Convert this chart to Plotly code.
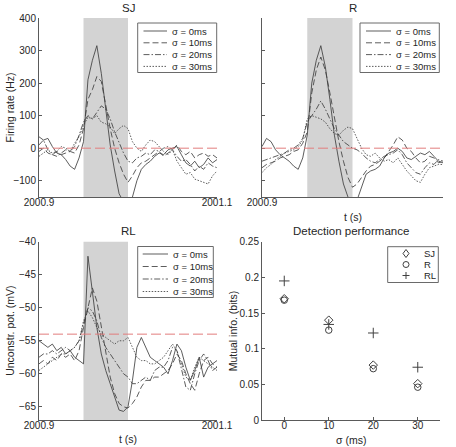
import plotly.graph_objects as go

# ---------------- data ----------------
TIME = [2000.900, 2000.905, 2000.910, 2000.915, 2000.920, 2000.925, 2000.930, 2000.935, 2000.940, 2000.945,
        2000.950, 2000.955, 2000.960, 2000.965, 2000.970, 2000.975, 2000.980, 2000.985, 2000.990, 2000.995,
        2001.000, 2001.005, 2001.010, 2001.015, 2001.020, 2001.025, 2001.030, 2001.035, 2001.040, 2001.045,
        2001.050, 2001.055, 2001.060, 2001.065, 2001.070, 2001.075, 2001.080, 2001.085, 2001.090, 2001.095,
        2001.100]
SHADE = [2000.95, 2001.0]
SIGMA_LABELS = ["σ = 0ms", "σ = 10ms", "σ = 20ms", "σ = 30ms"]
TIME_TICKS = [2000.9, 2001.1]
TIME_TICK_TEXT = ["2000.9", "2001.1"]

SJ_0 = [35, 25, 30, 5, -15, -20, -35, -55, -65, -30,
        20, 210, 270, 315, 230, 120, 10, -70, -140, -165,
        -175, -150, -100, -65, -50, -40, -25, -15, -20, -5,
        0, 5, -20, -45, -55, -40, -60, -50, -30, -45, -35]
SJ_10 = [-10, 0, -15, -20, -10, -20, -15, -10, -15, 10,
         60, 150, 180, 220, 205, 130, 60, 0, -45, -80,
         -105, -85, -60, -45, -40, -30, -20, -10, -25, -15,
         -5, 10, -10, -20, -10, -30, -20, -15, -25, -20, -30]
SJ_20 = [10, 25, -5, -20, -25, -15, -5, -10, 5, 40,
         80, 100, 90, 110, 130, 120, 90, 50, 15, -15,
         -40, -45, -30, -25, -15, -20, -5, -10, 0, 5,
         -5, -25, -40, -35, -50, -70, -55, -65, -45, -55, -60]
SJ_30 = [-25, -15, -5, -15, -10, 5, 0, -10, 15, 35,
         70, 95, 90, 100, 80, 75, 65, 45, 60, 70,
         60, 20, 0, -10, 10, 25, 20, 5, -10, -20,
         -5, -40, -60, -80, -75, -95, -100, -105, -110, -85, -70]

R_0 = [5, 30, 20, -5, -20, -30, -40, -55, -65, -30,
       40, 200, 270, 315, 250, 150, 40, -40, -110, -150,
       -170, -160, -120, -80, -70, -65, -55, -30, -15, -10,
       0, -10, -30, -35, -25, -15, -20, -10, -25, -40, -45]
R_10 = [-60, -50, -45, -40, -30, -25, -20, -10, -5, 15,
        50, 170, 240, 280, 240, 170, 90, 20, -40, -90,
        -120, -110, -90, -70, -55, -50, -40, -30, -10, 10,
        35, 25, 0, -10, -30, -45, -40, -25, -30, -45, -40]
R_20 = [-40, -35, -30, -25, -20, -15, -5, 0, 10, 30,
        80, 100, 120, 145, 120, 90, 60, 40, 20, 10,
        0, -5, -15, -30, -40, -45, -35, -25, -20, -15,
        -5, -20, -45, -60, -75, -80, -60, -45, -50, -35, -40]
R_30 = [-75, -60, -50, -35, -25, -15, -10, -5, 5, 25,
        90, 100, 95, 90, 80, 60, 45, 40, 55, 65,
        60, 30, 0, -20, -25, -15, -30, -40, -35, -45,
        -30, -50, -70, -85, -100, -105, -80, -60, -55, -50, -50]

RL_0 = [-55, -55.5, -56, -55.5, -56.5, -56, -57, -56.5, -57.5, -58,
        -58.5, -42.2, -48, -53, -57, -59.5, -61.5, -63.5, -65.5, -65.7,
        -65, -61, -56, -54.5, -56, -57.5, -58, -58.5, -59, -60,
        -58, -55.5, -56.5, -59, -61, -59.5, -57.5, -60.5, -59, -58.5, -58]
RL_10 = [-58.5, -58, -58.5, -57.5, -58, -57, -57.5, -57, -58, -56.5,
         -53, -50, -47, -49, -53, -57, -60.5, -63, -64.5, -65,
         -65.2, -64.5, -63.5, -62, -61, -61, -60.5, -60.5, -60, -59.5,
         -58.5, -57, -58, -60, -61.5, -62.5, -60, -58, -57.5, -58.5, -59]
RL_20 = [-57.5, -57, -57, -56.5, -57, -56.5, -56, -56.5, -56, -55,
         -52.5, -50, -50.5, -52, -54.5, -56, -57, -58, -59, -60,
         -60.5, -61.5, -61.5, -61, -60.5, -61, -59.5, -59, -59, -58,
         -56, -56.5, -59.5, -62, -62.5, -60, -58, -57, -58, -59.5, -59]
RL_30 = [-59.5, -59, -58.5, -58, -57.5, -57, -57, -56.5, -56, -55,
         -52, -50.5, -51.5, -53, -54, -54.5, -55, -55.5, -55, -55,
         -54.5, -56, -57.5, -58, -58, -58.5, -58.5, -58, -57.5, -56.5,
         -55.5, -56.5, -58.5, -60.5, -61, -59, -57.5, -58, -58.5, -59, -59.5]

THRESH_RATE = 0
THRESH_POT = -54

SIGMA = [0, 10, 20, 30]
MI_SJ = [0.170, 0.140, 0.077, 0.051]
MI_R = [0.168, 0.126, 0.072, 0.046]
MI_RL = [0.195, 0.134, 0.122, 0.074]
MI_NAMES = ["SJ", "R", "RL"]

# ---------------- styling ----------------
W, H = 456, 447
FONT = "Liberation Sans, Arial, Helvetica, sans-serif"
LINE_C = "#404040"
AX_C = "#5a5a5a"
TXT_C = "#262626"
DASHES = ["solid", "6px,3px", "6px,2px,1.5px,2px", "1.5px,1.5px"]


def px(x):
    return x / W


def py(y):
    return 1 - y / H


fig = go.Figure()

panels = [
    ([SJ_0, SJ_10, SJ_20, SJ_30], "x", "y"),
    ([R_0, R_10, R_20, R_30], "x2", "y2"),
    ([RL_0, RL_10, RL_20, RL_30], "x3", "y3"),
]
for series, xa, ya in panels:
    for vals, name, dash in zip(series, SIGMA_LABELS, DASHES):
        fig.add_trace(go.Scatter(x=TIME, y=vals, mode="lines", name=name, showlegend=False,
                                 line=dict(color=LINE_C, width=0.85, dash=dash),
                                 xaxis=xa, yaxis=ya, hoverinfo="skip"))

MARKERS = ["diamond-open", "circle-open", "cross-thin-open"]
for vals, name, sym, sz in zip([MI_SJ, MI_R, MI_RL], MI_NAMES, MARKERS, [6.5, 6.5, 7.5]):
    fig.add_trace(go.Scatter(x=SIGMA, y=vals, mode="markers", name=name, showlegend=False,
                             marker=dict(symbol=sym, size=sz, color=LINE_C, line=dict(width=1, color=LINE_C)),
                             xaxis="x4", yaxis="y4", hoverinfo="skip"))

# shaded stimulus windows and thresholds
for xr, yr in [("x", "y"), ("x2", "y2"), ("x3", "y3")]:
    fig.add_shape(type="rect", xref=xr, yref=yr + " domain", x0=SHADE[0], x1=SHADE[1], y0=0, y1=1,
                  fillcolor="#d3d3d3", line=dict(width=0), layer="below")
for xr, yr, th in [("x", "y", THRESH_RATE), ("x2", "y2", THRESH_RATE), ("x3", "y3", THRESH_POT)]:
    fig.add_shape(type="line", xref=xr + " domain", yref=yr, x0=0, x1=1, y0=th, y1=th,
                  line=dict(color="rgb(226,125,125)", width=1, dash="10px,4px"), layer="above")


# ---------------- legends (boxes, line samples, real text) ----------------
def legend_box(x0, x1, y0, y1):
    fig.add_shape(type="rect", xref="paper", yref="paper", x0=px(x0), x1=px(x1), y0=py(y1), y1=py(y0),
                  fillcolor="white", line=dict(color="#6a6a6a", width=1), layer="above")


def legend_text(label, x, y):
    fig.add_annotation(text=label, x=px(x), y=py(y), xref="paper", yref="paper", showarrow=False,
                       xanchor="left", yanchor="middle", font=dict(size=9.5, color=TXT_C, family=FONT))


def line_legend(box, rows, sample, text_x):
    legend_box(*box)
    for yy, label, dash in zip(rows, SIGMA_LABELS, DASHES):
        fig.add_shape(type="line", xref="paper", yref="paper", x0=px(sample[0]), x1=px(sample[1]),
                      y0=py(yy), y1=py(yy), line=dict(color=LINE_C, width=0.85, dash=dash), layer="above")
        legend_text(label, text_x, yy)


line_legend((137.7, 216.7, 23, 72.5), [31, 42.8, 54.6, 66.4], (143.5, 167), 170)
line_legend((360, 439.3, 23, 72.5), [31, 42.8, 54.6, 66.4], (366, 391), 394)
line_legend((137.7, 213.3, 246.5, 297.5), [254, 266.5, 279, 291.5], (142.7, 168), 171)

# marker legend for the detection panel
legend_box(387.7, 438.3, 246.7, 282.5)
MROWS = [253.5, 264.5, 275.5]
SX = 406
sym_line = dict(color=LINE_C, width=1)
# diamond
fig.add_shape(type="path", xref="paper", yref="paper", layer="above", line=sym_line,
              path="M {a},{b} L {c},{d} L {a},{e} L {f},{d} Z".format(
                  a=px(SX), b=py(MROWS[0] - 4), c=px(SX + 3), d=py(MROWS[0]), e=py(MROWS[0] + 4), f=px(SX - 3)))
# circle
fig.add_shape(type="circle", xref="paper", yref="paper", layer="above", line=sym_line,
              x0=px(SX - 3), x1=px(SX + 3), y0=py(MROWS[1] + 3), y1=py(MROWS[1] - 3))
# plus
fig.add_shape(type="line", xref="paper", yref="paper", layer="above", line=sym_line,
              x0=px(SX - 3.5), x1=px(SX + 3.5), y0=py(MROWS[2]), y1=py(MROWS[2]))
fig.add_shape(type="line", xref="paper", yref="paper", layer="above", line=sym_line,
              x0=px(SX), x1=px(SX), y0=py(MROWS[2] - 3.5), y1=py(MROWS[2] + 3.5))
for yy, name in zip(MROWS, MI_NAMES):
    legend_text(name, 421.5, yy)

# ---------------- axes ----------------
ax = dict(showline=True, linecolor=AX_C, linewidth=1, ticks="inside", ticklen=3, tickcolor=AX_C,
          showgrid=False, zeroline=False, automargin=False, mirror=False,
          tickfont=dict(size=10, color=TXT_C, family=FONT))
xax = dict(ax, ticklabelstandoff=-4)

top = [py(197), py(18)]
bot = [py(420), py(241.7)]
left = [px(39), px(217)]
right = [px(262), px(443)]
right_b = [px(262), px(440)]

fig.update_layout(
    template="none",
    width=W, height=H, margin=dict(l=0, r=0, t=0, b=0, pad=0), autosize=False,
    paper_bgcolor="white", plot_bgcolor="white", showlegend=False,
    font=dict(family=FONT, size=10, color=TXT_C),
    xaxis=dict(xax, domain=left, anchor="y", range=[2000.9, 2001.1], tickvals=TIME_TICKS, ticktext=TIME_TICK_TEXT),
    yaxis=dict(ax, domain=top, anchor="x", range=[-150, 400], tickvals=[-100, 0, 100, 200, 300, 400]),
    xaxis2=dict(xax, domain=right, anchor="y2", range=[2000.9, 2001.1], tickvals=TIME_TICKS, ticktext=TIME_TICK_TEXT),
    yaxis2=dict(ax, domain=top, anchor="x2", range=[-150, 400], tickvals=[-100, 0, 100, 200, 300, 400],
                showticklabels=False),
    xaxis3=dict(xax, domain=left, anchor="y3", range=[2000.9, 2001.1], tickvals=TIME_TICKS, ticktext=TIME_TICK_TEXT),
    yaxis3=dict(ax, domain=bot, anchor="x3", range=[-67, -40], tickvals=[-65, -60, -55, -50, -45, -40]),
    xaxis4=dict(xax, domain=right_b, anchor="y4", range=[-5, 35], tickvals=SIGMA),
    yaxis4=dict(ax, domain=bot, anchor="x4", range=[0, 0.25], tickvals=[0, 0.05, 0.1, 0.15, 0.2, 0.25],
                ticktext=["0", "0.05", "0.1", "0.15", "0.2", "0.25"]),
)

# titles and axis titles
texts = [
    ("SJ", (39 + 217) / 2, 7.5, 0, 11.5),
    ("R", (262 + 443) / 2, 7.5, 0, 11.5),
    ("RL", (39 + 217) / 2, 231, 0, 11.5),
    ("Detection performance", (262 + 440) / 2, 231, 0, 11.5),
    ("Firing rate (Hz)", 10, (18 + 197) / 2, -90, 10.5),
    ("t (s)", (262 + 443) / 2, 216.5, 0, 10.5),
    ("t (s)", (39 + 217) / 2, 439, 0, 10.5),
    ("Unconstr. pot. (mV)", 10, (241.7 + 420) / 2, -90, 10.5),
    ("Mutual info. (bits)", 232.5, (241.7 + 420) / 2, -90, 10.5),
    ("σ (ms)", 351, 439.5, 0, 10.5),
]
for txt, xx, yy, ang, fs in texts:
    fig.add_annotation(text=txt, x=px(xx), y=py(yy), xref="paper", yref="paper", showarrow=False,
                       xanchor="center", yanchor="middle", textangle=ang,
                       font=dict(size=fs, color=TXT_C, family=FONT))

fig.write_html("out.html", config={"displayModeBar": False, "staticPlot": True},
               post_script="document.body.style.margin='0';document.body.style.padding='0';")
